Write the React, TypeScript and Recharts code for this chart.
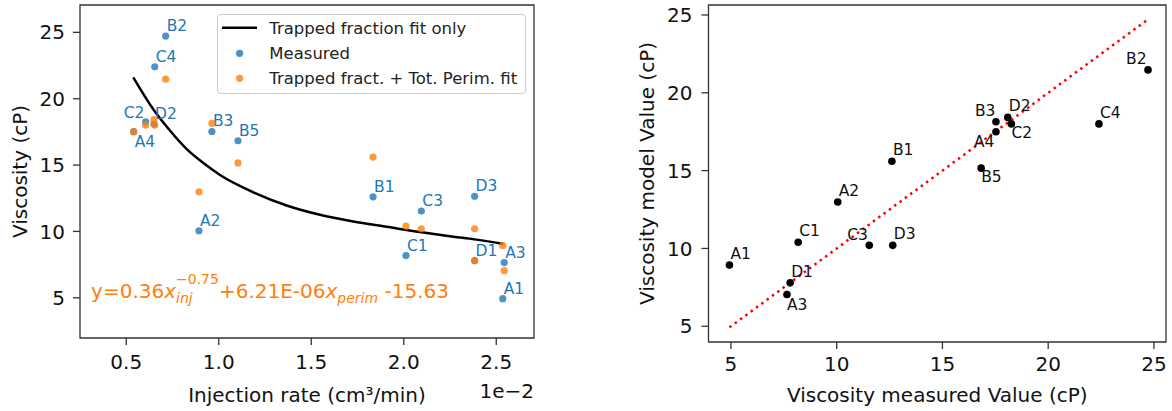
import React from 'react'
import {
  ComposedChart, Scatter, Line, XAxis, YAxis, ReferenceArea, ReferenceDot, Legend
} from 'recharts'

// samples, injection rate (x 1e-2 cm3/min), measured and modelled viscosity (cP)
const SAMPLES = ['A1', 'A2', 'A3', 'A4', 'B1', 'B2', 'B3', 'B5', 'C1', 'C2', 'C3', 'C4', 'D1', 'D2', 'D3']
const INJECTION_RATE = [2.535, 0.893, 2.543, 0.54, 1.834, 0.713, 0.963, 1.104, 2.012, 0.605, 2.095, 0.654, 2.383, 0.65, 2.383]
const MEASURED = [4.93, 10.05, 7.65, 17.53, 12.61, 24.72, 17.53, 16.83, 8.18, 18.26, 11.54, 22.4, 7.8, 18.09, 12.65]
const MODEL = [8.93, 12.98, 7.04, 17.5, 15.6, 21.47, 18.14, 15.16, 10.4, 18.0, 10.2, 18.0, 7.79, 18.42, 10.2]

// "Trapped fraction fit only" curve
const FIT_X = [0.538, 0.646, 0.736, 0.827, 0.917, 1.007, 1.187, 1.367, 1.547, 1.727, 1.908, 2.088, 2.268, 2.383, 2.538]
const FIT_Y = [21.6, 19.2, 17.6, 16.2, 15.15, 14.25, 12.95, 11.95, 11.25, 10.75, 10.35, 9.95, 9.6, 9.4, 9.05]

const LEFT_X_TICKS = [0.5, 1.0, 1.5, 2.0, 2.5]
const LEFT_Y_TICKS = [5, 10, 15, 20, 25]
const RIGHT_TICKS = [5, 10, 15, 20, 25]

const FONT = '"DejaVu Sans", sans-serif'
const BLUE = '#1f77b4'
const ORANGE = '#ff7f0e'
const INK = '#111'
const FRAME = '#333'

// label nudges (px) for point annotations
const LEFT_LABEL_OFFSET: Record<string, [number, number]> = { C2: [-22, -4], A4: [1, 16] }
const RIGHT_LABEL_OFFSET: Record<string, [number, number]> = {
  B2: [-22, -6], B3: [-21, -6], C3: [-22, -5], A4: [-22, 15], C2: [0, 14], B5: [0, 14], A3: [0, 15]
}

const measuredPts = SAMPLES.map((name, i) => ({ name, x: INJECTION_RATE[i], y: MEASURED[i] }))
const fittedPts = SAMPLES.map((name, i) => ({ name, x: INJECTION_RATE[i], y: MODEL[i] }))
const fitCurve = FIT_X.map((x, i) => ({ x, y: FIT_Y[i] }))
const parityPts = SAMPLES.map((name, i) => ({ name, x: MEASURED[i], y: MODEL[i] }))
const lo = Math.min(...MEASURED)
const hi = Math.max(...MEASURED)
const identity = [{ x: lo, y: lo }, { x: hi, y: hi }]

const tickStyle = { fill: INK, fontSize: 20, fontFamily: FONT }
const tickLine = { stroke: FRAME, strokeWidth: 1.3 }

const makeShape = (color: string, opacity: number, r: number, offsets?: Record<string, [number, number]>, labelColor?: string) =>
  (props: any) => {
    const { cx, cy, payload } = props
    const off = offsets ? (offsets[payload.name] || [1, offsets === RIGHT_LABEL_OFFSET ? -6 : -5]) : null
    return (
      <g>
        <circle cx={cx} cy={cy} r={r} fill={color} fillOpacity={opacity} />
        {off && (
          <text x={cx + off[0]} y={cy + off[1]} fill={labelColor} fontSize={15.5} fontFamily={FONT}>
            {payload.name}
          </text>
        )}
      </g>
    )
  }

const LeftLegend = () => (
  <div style={{
    width: 309, height: 80, boxSizing: 'border-box', border: '1px solid #ccc', borderRadius: 4,
    background: 'rgba(255,255,255,0.8)', fontFamily: FONT
  }}>
    <svg width={307} height={78}>
      <line x1={4} x2={39} y1={12.7} y2={12.7} stroke="#000" strokeWidth={2.5} />
      <circle cx={21.6} cy={38.3} r={3.6} fill={BLUE} fillOpacity={0.8} />
      <circle cx={21.6} cy={63.3} r={3.6} fill={ORANGE} fillOpacity={0.8} />
      <text x={51.3} y={13.3} dominantBaseline="central" fontSize={16.5} fill="#222">Trapped fraction fit only</text>
      <text x={51.3} y={38.3} dominantBaseline="central" fontSize={16.5} fill="#222">Measured</text>
      <text x={51.3} y={63.3} dominantBaseline="central" fontSize={16.5} fill="#222">Trapped fract. + Tot. Perim. fit</text>
    </svg>
  </div>
)

const Equation = (props: any) => {
  const { viewBox } = props
  const x = viewBox.x + (viewBox.width || 0) / 2
  const y = viewBox.y + (viewBox.height || 0) / 2
  return (
    <text x={x} y={y} fill={ORANGE} fontSize={20} fontFamily={FONT}>
      y=0.36<tspan fontStyle="italic">x</tspan>
      <tspan fontStyle="italic" fontSize={14} dy={5}>inj</tspan>
      <tspan fontSize={14} dx={-16.7} dy={-19}>−0.75</tspan>
      <tspan dy={14}>+6.21E-06</tspan>
      <tspan fontStyle="italic">x</tspan>
      <tspan fontStyle="italic" fontSize={14} dy={5}>perim</tspan>
      <tspan dy={-5}> -15.63</tspan>
    </text>
  )
}

const LeftXLabel = (props: any) => {
  const vb = props.viewBox
  return (
    <g fontFamily={FONT} fill={INK} fontSize={20}>
      <text x={vb.x + vb.width / 2} y={402} textAnchor="middle" fill={INK}>Injection rate (cm³/min)</text>
      <text x={vb.x + vb.width} y={398} textAnchor="end" fill={INK}>1e−2</text>
    </g>
  )
}

const RightXLabel = (props: any) => {
  const vb = props.viewBox
  return (
    <text x={vb.x + vb.width / 2} y={402} textAnchor="middle" fill={INK} fontSize={20} fontFamily={FONT}>
      Viscosity measured Value (cP)
    </text>
  )
}

const yLabel = (text: string, cxOffset: number) => (props: any) => {
  const vb = props.viewBox
  const cx = vb.x + cxOffset
  const cy = vb.y + vb.height / 2
  return (
    <text x={cx} y={cy} transform={`rotate(-90, ${cx}, ${cy})`} textAnchor="middle" dominantBaseline="central"
      fill={INK} fontSize={20} fontFamily={FONT}>
      {text}
    </text>
  )
}

const LEFT_X_DOMAIN: [number, number] = [0.25, 2.704]
const LEFT_Y_DOMAIN: [number, number] = [1.97, 27.06]
const RIGHT_X_DOMAIN: [number, number] = [3.94, 25.57]
const RIGHT_Y_DOMAIN: [number, number] = [3.99, 25.64]

export default function App() {
  return (
    <div style={{ position: 'absolute', left: 0, top: 0, width: 1172, height: 411, background: '#fff', fontFamily: FONT }}>
      {/* injection rate vs viscosity */}
      <div style={{ position: 'absolute', left: 0, top: 0 }}>
        <ComposedChart width={540} height={411} margin={{ top: 5, right: 6, left: 0, bottom: 0 }}>
          <XAxis
            type="number" dataKey="x" domain={LEFT_X_DOMAIN} allowDataOverflow ticks={LEFT_X_TICKS}
            tickFormatter={(v: number) => v.toFixed(1)} height={73} axisLine={false}
            tick={tickStyle} tickLine={tickLine} tickSize={7} tickMargin={10} interval={0}
            label={LeftXLabel}
          />
          <YAxis
            type="number" dataKey="y" domain={LEFT_Y_DOMAIN} allowDataOverflow ticks={LEFT_Y_TICKS}
            width={80} axisLine={false} tick={tickStyle} tickLine={tickLine} tickSize={7} tickMargin={8}
            interval={0} label={yLabel('Viscosity (cP)', 20)}
          />
          <ReferenceArea x1={LEFT_X_DOMAIN[0]} x2={LEFT_X_DOMAIN[1]} y1={LEFT_Y_DOMAIN[0]} y2={LEFT_Y_DOMAIN[1]}
            fill="none" stroke={FRAME} strokeWidth={1.3} fillOpacity={0} />
          <Line data={fitCurve} dataKey="y" type="monotone" stroke="#000" strokeWidth={2.5} dot={false}
            isAnimationActive={false} />
          <Scatter data={measuredPts} dataKey="y" isAnimationActive={false}
            shape={makeShape(BLUE, 0.8, 3.6, LEFT_LABEL_OFFSET, BLUE)} />
          <Scatter data={fittedPts} dataKey="y" isAnimationActive={false}
            shape={makeShape(ORANGE, 0.8, 3.6)} />
          <ReferenceDot x={0.31} y={5} r={0} fill="none" stroke="none" label={Equation} />
          <Legend layout="vertical" align="center" verticalAlign="middle" content={LeftLegend}
            wrapperStyle={{ left: 216.7, top: 14, width: 309, height: 80 }} />
        </ComposedChart>
      </div>

      {/* measured vs model */}
      <div style={{ position: 'absolute', left: 620, top: 0 }}>
        <ComposedChart width={552} height={411} margin={{ top: 5, right: 6, left: 0, bottom: 0 }}>
          <XAxis
            type="number" dataKey="x" domain={RIGHT_X_DOMAIN} allowDataOverflow ticks={RIGHT_TICKS}
            height={69} axisLine={false} tick={tickStyle} tickLine={tickLine} tickSize={7} tickMargin={8}
            interval={0} label={RightXLabel}
          />
          <YAxis
            type="number" dataKey="y" domain={RIGHT_Y_DOMAIN} allowDataOverflow ticks={RIGHT_TICKS}
            width={88.5} axisLine={false} tick={tickStyle} tickLine={tickLine} tickSize={7} tickMargin={9}
            interval={0} label={yLabel('Viscosity model Value (cP)', 27.3)}
          />
          <ReferenceArea x1={RIGHT_X_DOMAIN[0]} x2={RIGHT_X_DOMAIN[1]} y1={RIGHT_Y_DOMAIN[0]} y2={RIGHT_Y_DOMAIN[1]}
            fill="none" stroke={FRAME} strokeWidth={1.3} fillOpacity={0} />
          <Scatter data={parityPts} dataKey="y" isAnimationActive={false}
            shape={makeShape('#000', 1, 3.8, RIGHT_LABEL_OFFSET, INK)} />
          <Line data={identity} dataKey="y" type="linear" stroke="#ff0000" strokeWidth={2.5}
            strokeDasharray="2.5 4.1" dot={false} isAnimationActive={false} />
        </ComposedChart>
      </div>
    </div>
  )
}
